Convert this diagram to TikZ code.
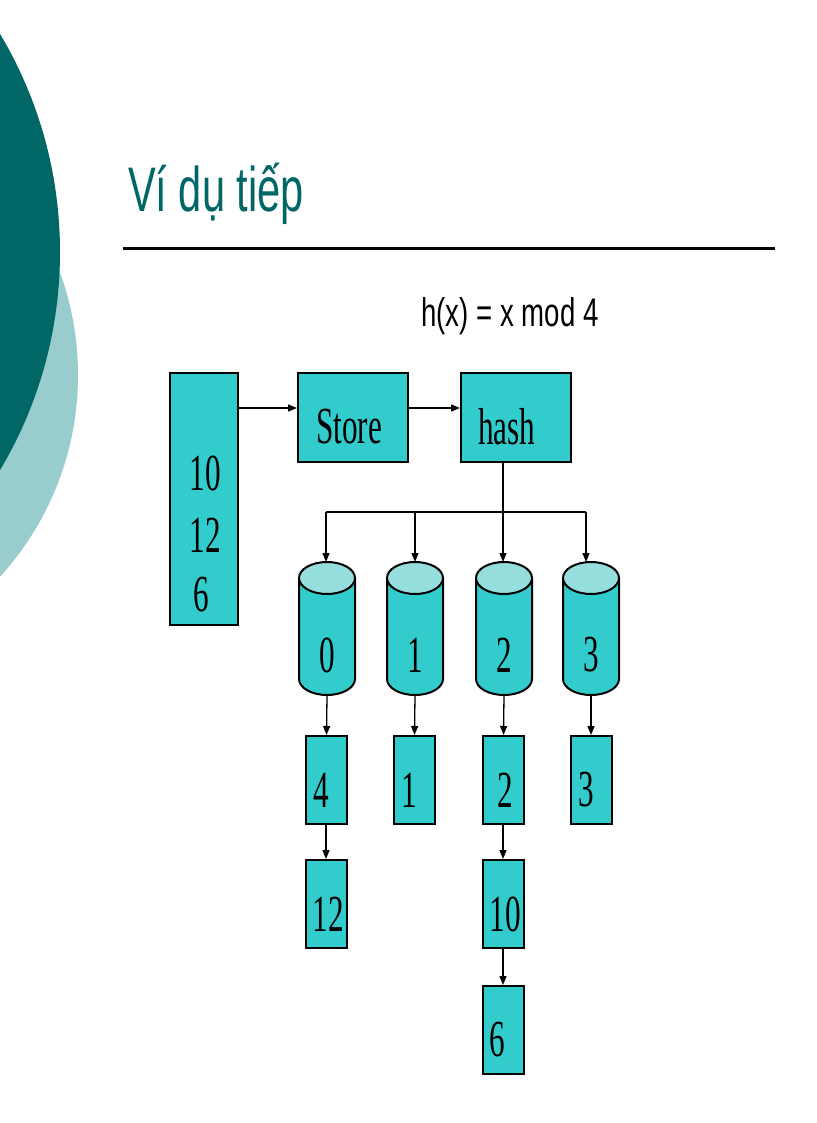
\documentclass[tikz,border=0pt]{standalone}
\usepackage{fontspec}
\setmainfont{Liberation Serif}
\newfontfamily\sansf{Liberation Sans}
\usetikzlibrary{arrows.meta}
\definecolor{cy}{RGB}{51,204,204}
\definecolor{cytop}{RGB}{150,222,222}
\definecolor{dteal}{RGB}{0,102,102}
\definecolor{lteal}{RGB}{153,204,204}
\begin{document}
\begin{tikzpicture}[x=1pt,y=-1pt,
  box/.style={draw=black,line width=2pt,fill=cy,inner sep=0pt},
  num/.style={font=\fontsize{52}{56}\selectfont,xscale=0.6},
  arr/.style={line width=1.3pt,-{Triangle[length=9pt,width=7pt]}},
  ln/.style={line width=1.3pt}]
\useasboundingbox (0,0) rectangle (816,1123);
\fill[lteal] (-222,375) circle (300);
\fill[dteal] (-366,252) circle (426);
\node[anchor=base west,text=dteal,font=\sansf\fontsize{63}{66}\selectfont,xscale=0.66,inner sep=0pt] (title) at (128,212) {Ví dụ tiếp};
\draw[line width=3pt] (123,248) coordinate (l1) -- (775,248) coordinate (l2);
\node[font=\sansf\fontsize{40}{44}\selectfont,xscale=0.69,inner sep=0pt] (hx) at (510,316) {h(x) = x mod 4};
% big box
\node[box,minimum width=68pt,minimum height=252pt] (big) at (204,499) {};
\node[num] (n10) at (205,473) {10};
\node[num] (n12) at (205,535) {12};
\node[num] (n6) at (201,595) {6};
\node[box,minimum width=110pt,minimum height=89pt] (store) at (353,417) {};
\node[num,anchor=west] (st) at (314,427) {Store};
\node[box,minimum width=110pt,minimum height=89pt] (hash) at (516,417) {};
\node[num,anchor=west] (hs) at (476,427) {hash};
\draw[arr] (238,408) -- (store.west|-0,408);
\draw[arr] (store.east|-0,408) -- (hash.west|-0,408);
% cylinders
\foreach \i/\x in {0/327,1/415,2/504,3/591}{
  \draw[line width=2pt,fill=cy] (\x-28,578) -- (\x-28,679) arc[start angle=180,end angle=0,x radius=28,y radius=16] -- (\x+28,578);
  \draw[line width=2pt,fill=cytop] (\x,578) ellipse[x radius=28,y radius=16];
  \coordinate (c\i t) at (\x,562);
  \coordinate (c\i b) at (\x,695);
  \node[num] (t\i) at (\x,655) {\i};
}
\coordinate (h1) at (503,512);
\coordinate (hl) at (326,512);
\coordinate (hr) at (586,512);
\draw[ln] (hash.south-|h1) -- (h1);
\draw[ln] (hl) -- (hr);
\draw[arr] (hl) -- (c0t-|hl);
\draw[arr] (415,512) -- (c1t);
\draw[arr] (h1) -- (c2t-|h1);
\draw[arr] (hr) -- (c3t-|hr);
% small boxes
\tikzset{sb/.style={box,minimum width=41pt,minimum height=88pt}}
\node[sb] (b4) at (326,780) {}; \node[num] at (321,790) {4};
\node[sb] (b1) at (414,780) {}; \node[num] at (409,790) {1};
\node[sb] (b2) at (503,780) {}; \node[num] at (505,790) {2};
\node[sb] (b3) at (591,780) {}; \node[num] at (586,790) {3};
\node[sb] (b12) at (326,904) {}; \node[num] at (328,914) {12};
\node[sb] (b10) at (503,904) {}; \node[num] at (505,914) {10};
\node[sb] (b6) at (503,1030) {}; \node[num] at (497,1040) {6};
\draw[arr] (c0b) -- (b4);
\draw[arr] (c1b) -- (b1);
\draw[arr] (c2b) -- (b2);
\draw[arr] (c3b) -- (b3);
\draw[arr] (b4) -- (b12);
\draw[arr] (b2) -- (b10);
\draw[arr] (b10) -- (b6);
\end{tikzpicture}
\end{document}
